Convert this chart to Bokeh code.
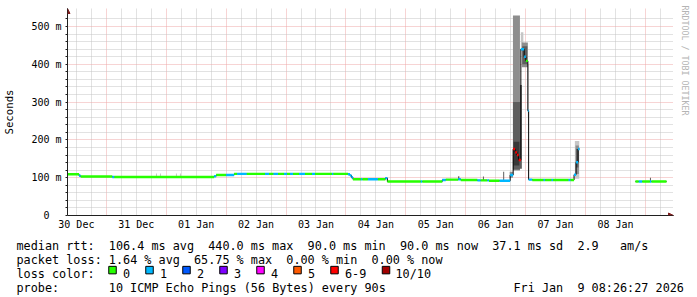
import re
import numpy as np
import pandas as pd
from bokeh.plotting import figure
from bokeh.layouts import column
from bokeh.models import (Range1d, FixedTicker, DatetimeTickFormatter, Arrow,
                          NormalHead, ColumnDataSource, Title)
from bokeh.core.properties import value
from bokeh.embed import file_html
from bokeh.resources import INLINE

# ---------------- data ----------------
START = "2025-12-30 08:26:27"
END = "2026-01-09 08:26:27"

# median rtt (ms) change points; each value holds until the next time
med_time = [
    "2025-12-30 08:26", "2025-12-30 13:05", "2025-12-30 13:43", "2025-12-31 02:24",
    "2025-12-31 03:12", "2026-01-01 19:12", "2026-01-01 20:00", "2026-01-02 00:00",
    "2026-01-02 03:12", "2026-01-02 04:24", "2026-01-02 08:17", "2026-01-02 15:36",
    "2026-01-02 17:12", "2026-01-02 19:00", "2026-01-02 20:48", "2026-01-02 23:12",
    "2026-01-03 00:24", "2026-01-03 01:36", "2026-01-03 02:48", "2026-01-03 05:12",
    "2026-01-03 07:36", "2026-01-03 10:24", "2026-01-03 11:36", "2026-01-03 18:24",
    "2026-01-03 19:00", "2026-01-04 00:48", "2026-01-04 01:36", "2026-01-04 02:12",
    "2026-01-04 02:48", "2026-01-04 06:00", "2026-01-04 06:36", "2026-01-04 08:48",
    "2026-01-04 12:48", "2026-01-04 15:48", "2026-01-04 16:36", "2026-01-05 06:00",
    "2026-01-05 06:36", "2026-01-05 14:36", "2026-01-05 16:00", "2026-01-05 21:00",
    "2026-01-05 22:00", "2026-01-06 04:40", "2026-01-06 06:00", "2026-01-06 08:40",
    "2026-01-06 09:20", "2026-01-06 13:36", "2026-01-06 17:48", "2026-01-06 19:00",
    "2026-01-06 19:48", "2026-01-06 20:31", "2026-01-06 21:12", "2026-01-06 22:05",
    "2026-01-06 23:24", "2026-01-07 00:05", "2026-01-07 00:53", "2026-01-07 01:12",
    "2026-01-07 02:40", "2026-01-07 07:12", "2026-01-07 07:48", "2026-01-07 10:24",
    "2026-01-07 11:00", "2026-01-07 17:12", "2026-01-07 18:00", "2026-01-07 19:24",
    "2026-01-07 20:12", "2026-01-07 21:00", "2026-01-07 21:36", "2026-01-08 20:00",
    "2026-01-08 21:19", "2026-01-08 22:41", "2026-01-09 01:48", "2026-01-09 02:24",
]
med_ms = [
    109, 105, 103, 102,
    102, 104, 107, 107,
    110, 110, 110, 110,
    110, 110, 110, 110,
    110, 110, 110, 110,
    110, 110, 110, 110,
    110, 109, 106, 101,
    96, 96, 96, 96,
    96, 99, 90, 90,
    90, 94, 95, 96,
    94, 93, 93, 93,
    92, 92, 107, 176,
    167, 160, 147, 440,
    420, 409, 277, 95,
    94, 94, 94, 94,
    94, 94, 94, 108,
    141, 176, None, 90,
    90, 90, 90, 90,
]
# loss bucket index into loss_labels (-1 = no data)
med_loss = [
    0, 1, 0, 1,
    0, 1, 0, 1,
    0, 1, 0, 1,
    0, 1, 0, 1,
    0, 1, 0, 1,
    0, 1, 0, 1,
    0, 1, 1, 1,
    0, 1, 0, 1,
    0, 1, 0, 1,
    0, 1, 0, 1,
    0, 1, 0, 1,
    0, 1, 1, 6,
    6, 6, 6, 1,
    1, 0, 1, 1,
    0, 1, 0, 1,
    0, 1, 0, 1,
    1, 1, -1, 0,
    1, 0, 1, 0,
]

# smoke (ping spread) bands
smoke_start = [
    "2026-01-06 17:36", "2026-01-06 18:55", "2026-01-06 18:55", "2026-01-06 19:10",
    "2026-01-06 21:43", "2026-01-06 22:05", "2026-01-06 22:29", "2026-01-06 22:40",
    "2026-01-07 00:53", "2026-01-07 19:43", "2026-01-07 20:00", "2026-01-07 20:12",
    "2025-12-31 19:53", "2025-12-31 21:29", "2026-01-01 03:53", "2026-01-01 05:29",
    "2026-01-05 21:00", "2026-01-06 06:53", "2026-01-06 15:00", "2026-01-09 01:48",
]
smoke_end = [
    "2026-01-06 18:55", "2026-01-06 21:43", "2026-01-06 21:43", "2026-01-06 21:30",
    "2026-01-06 22:29", "2026-01-06 23:05", "2026-01-07 00:53", "2026-01-07 00:40",
    "2026-01-07 01:12", "2026-01-07 21:29", "2026-01-07 21:20", "2026-01-07 21:10",
    "2025-12-31 20:17", "2025-12-31 21:53", "2026-01-01 04:17", "2026-01-01 05:53",
    "2026-01-05 21:24", "2026-01-06 07:17", "2026-01-06 15:24", "2026-01-09 02:12",
]
smoke_lo = [100, 119, 122, 132, 124, 435, 392, 400, 260, 97, 110, 127,
            103, 103, 103, 103, 96, 93, 92, 90]
smoke_hi = [116, 529, 300, 195, 345, 485, 458, 448, 400, 197, 185, 176,
            111, 111, 111, 111, 104, 103, 116, 100]
smoke_shade = [1, 1, 2, 3, 2, 0, 1, 2, 0, 0, 1, 2,
               0, 0, 0, 0, 3, 2, 2, 2]
shade_colors = ["#c6c6c6", "#8e8e8e", "#5e5e5e", "#383838"]

loss_labels = ["0", "1", "2", "3", "4", "5", "6-9", "10/10"]
loss_colors = ["#26ff00", "#00b8ff", "#0059ff", "#7e00ff",
               "#ff00ff", "#ff5a00", "#ff0000", "#a10000"]

y_ticks = [0, 100, 200, 300, 400, 500]
y_tick_labels = ["0\u00a0\u00a0", "100 m", "200 m", "300 m", "400 m", "500 m"]
y_minor = [v for v in range(20, 540, 20) if v % 100 != 0]

legend_lines = [
    "median rtt:  106.4 ms avg  440.0 ms max  90.0 ms min  90.0 ms now  37.1 ms sd  2.9   am/s",
    "packet loss: 1.64 % avg  65.75 % max  0.00 % min  0.00 % now",
]
legend_caption = "loss color:"
probe_label = "probe:"
probe_text = "10 ICMP Echo Pings (56 Bytes) every 90s"
stamp_parts = ["Fri Jan", "9 08:26:27 2026"]
watermark = "RRDTOOL / TOBI OETIKER"

# ---------------- styles ----------------
FONT = "DejaVu Sans Mono"
MGRID = "#efa8a8"
GRID = "#c4c4c4"
AXIS = "#202020"
ARROW = "#801f1f"
YPX = 0.378                 # pixels per ms
FRAME_H = 207               # frame y = 8 .. 215
FRAME_W = 607               # frame x = 66 .. 673
Y_TOP = FRAME_H / YPX
Y_DATA_TOP = 534.0

x0, x1 = pd.Timestamp(START), pd.Timestamp(END)
px_t = (x1 - x0) / 600.0
x_end = x1 + 7 * px_t

p = figure(width=697, height=232, x_axis_type="datetime",
           x_range=Range1d(x0, x_end), y_range=Range1d(0, Y_TOP),
           output_backend="svg", toolbar_location=None,
           min_border_left=66, min_border_right=697 - 66 - FRAME_W,
           min_border_top=8, min_border_bottom=232 - 8 - FRAME_H)
p.frame_align = False
p.outline_line_color = None
p.background_fill_color = "white"
p.border_fill_color = "white"

# grids
midnights = [t.value / 1e6 for t in pd.date_range("2025-12-31", "2026-01-09", freq="D")]
six_h = [t.value / 1e6 for t in pd.date_range("2025-12-30 12:00", "2026-01-09 06:00", freq="6h")
         if t.hour != 0]
noons = [t.value / 1e6 for t in pd.date_range("2025-12-30 12:00", "2026-01-08 12:00", freq="D")]

p.xgrid.ticker = FixedTicker(ticks=midnights, minor_ticks=six_h)
for g in (p.xgrid, p.ygrid):
    g.grid_line_color = MGRID
    g.grid_line_dash = "1 1"
    g.grid_line_width = 1
    g.minor_grid_line_color = GRID
    g.minor_grid_line_dash = "1 1"
    g.minor_grid_line_width = 1

# x axis
p.xaxis.ticker = FixedTicker(ticks=noons)
fmt = "%d %b"
p.xaxis.formatter = DatetimeTickFormatter(milliseconds=fmt, seconds=fmt, minsec=fmt, minutes=fmt,
                                          hourmin=fmt, hours=fmt, days=fmt, months=fmt, years=fmt)
p.xaxis.major_tick_line_color = None
p.xaxis.minor_tick_line_color = None
p.xaxis.major_tick_out = 0
p.xaxis.major_tick_in = 0
p.xaxis.major_label_standoff = 3
p.xaxis.axis_line_color = AXIS
p.xaxis.major_label_text_font = FONT
p.xaxis.major_label_text_font_size = "10px"
p.xaxis.major_label_text_color = "black"

# y axis
p.yaxis.ticker = FixedTicker(ticks=y_ticks, minor_ticks=y_minor)
p.yaxis.major_label_overrides = {t: lab for t, lab in zip(y_ticks, y_tick_labels)}
p.yaxis.axis_line_color = AXIS
p.yaxis.major_tick_line_color = AXIS
p.yaxis.minor_tick_line_color = AXIS
p.yaxis.major_tick_out = 2
p.yaxis.major_tick_in = 0
p.yaxis.minor_tick_out = 2
p.yaxis.minor_tick_in = 0
p.yaxis.major_label_standoff = 4
p.yaxis.major_label_text_font = FONT
p.yaxis.major_label_text_font_size = "10px"
p.yaxis.major_label_text_color = "black"
p.yaxis.axis_label = "Seconds"
p.yaxis.axis_label_text_font = FONT
p.yaxis.axis_label_text_font_size = "10.7px"
p.yaxis.axis_label_text_font_style = "normal"
p.yaxis.axis_label_text_color = "black"
p.yaxis.axis_label_standoff = 12

# smoke
smoke = ColumnDataSource(dict(
    left=pd.to_datetime(smoke_start), right=pd.to_datetime(smoke_end),
    bottom=smoke_lo, top=smoke_hi,
    color=[shade_colors[s] for s in smoke_shade]))
p.quad(left="left", right="right", bottom="bottom", top="top", fill_color="color",
       line_color=None, source=smoke)

# median: black step line + loss-coloured runs
times = list(pd.to_datetime(med_time)) + [x1]
vals = [np.nan if v is None else float(v) for v in med_ms]
sx, sy = [], []
seg = dict(x0=[], x1=[], y=[], color=[])
for i, v in enumerate(vals):
    a, b = times[i], times[i + 1]
    sx += [a, b]
    sy += [v, v]
    if med_loss[i] >= 0 and not np.isnan(v):
        seg["x0"].append(a)
        seg["x1"].append(b)
        seg["y"].append(v)
        seg["color"].append(loss_colors[med_loss[i]])
p.line(x=sx, y=sy, line_color="black", line_width=1)
p.segment(x0="x0", y0="y", x1="x1", y1="y", line_color="color", line_width=2.4,
          line_cap="butt", source=ColumnDataSource(seg))

# axis arrows
p.add_layout(Arrow(end=NormalHead(size=5, fill_color=ARROW, line_color=ARROW, line_width=1),
                   x_start=x1.value / 1e6, y_start=0,
                   x_end=x_end.value / 1e6, y_end=0,
                   line_color=AXIS, line_width=1))
p.add_layout(Arrow(end=NormalHead(size=5, fill_color=ARROW, line_color=ARROW, line_width=1),
                   x_start=x0.value / 1e6, y_start=Y_DATA_TOP,
                   x_end=x0.value / 1e6, y_end=Y_TOP,
                   line_color=AXIS, line_width=1))

# watermark on the right
p.add_layout(Title(text=watermark, align="left", offset=-3, standoff=12, vertical_align="bottom",
                   text_font=FONT, text_font_size="8.3px", text_font_style="normal",
                   text_color="#b4b4b4"), "right")

# ---------------- legend area (pixel layout) ----------------
q = figure(width=697, height=65, x_range=Range1d(0, 697), y_range=Range1d(297, 232),
           output_backend="svg", toolbar_location=None, min_border=0,
           min_border_left=0, min_border_right=0, min_border_top=0, min_border_bottom=0,
           x_axis_type=None, y_axis_type=None)
q.frame_align = False
q.outline_line_color = None
q.background_fill_color = "white"
q.border_fill_color = "white"

CW = 7.1
LX = 16.0
base = [245, 259, 273, 287]
tx, ty, tt = [], [], []
for li, line in enumerate(legend_lines):
    for m in re.finditer(r"\S+(?: \S+)*", line):
        tx.append(LX + m.start() * CW)
        ty.append(base[li])
        tt.append(m.group(0))
tx.append(LX); ty.append(base[2]); tt.append(legend_caption)
tx.append(LX); ty.append(base[3]); tt.append(probe_label)
tx.append(LX + 13 * CW); ty.append(base[3]); tt.append(probe_text)
tx.append(LX + 70 * CW); ty.append(base[3]); tt.append(stamp_parts[0])
tx.append(LX + 79 * CW); ty.append(base[3]); tt.append(stamp_parts[1])

box_x = [112 + 37 * k for k in range(7)] + [385.5]
lab_x = [122.5 + 37 * k for k in range(7)] + [395.0]
tx += lab_x
ty += [base[2]] * len(loss_labels)
tt += loss_labels

q.text(x=tx, y=ty, text=tt, text_font=value(FONT), text_font_size="11.8px",
       text_color="black", text_align="left", text_baseline="alphabetic")
q.rect(x=box_x, y=269.6, width=7.5, height=7.5, fill_color=loss_colors,
       line_color="black", line_width=1)

layout = column(p, q, spacing=0)
open("out.html", "w").write(file_html(layout, INLINE))
